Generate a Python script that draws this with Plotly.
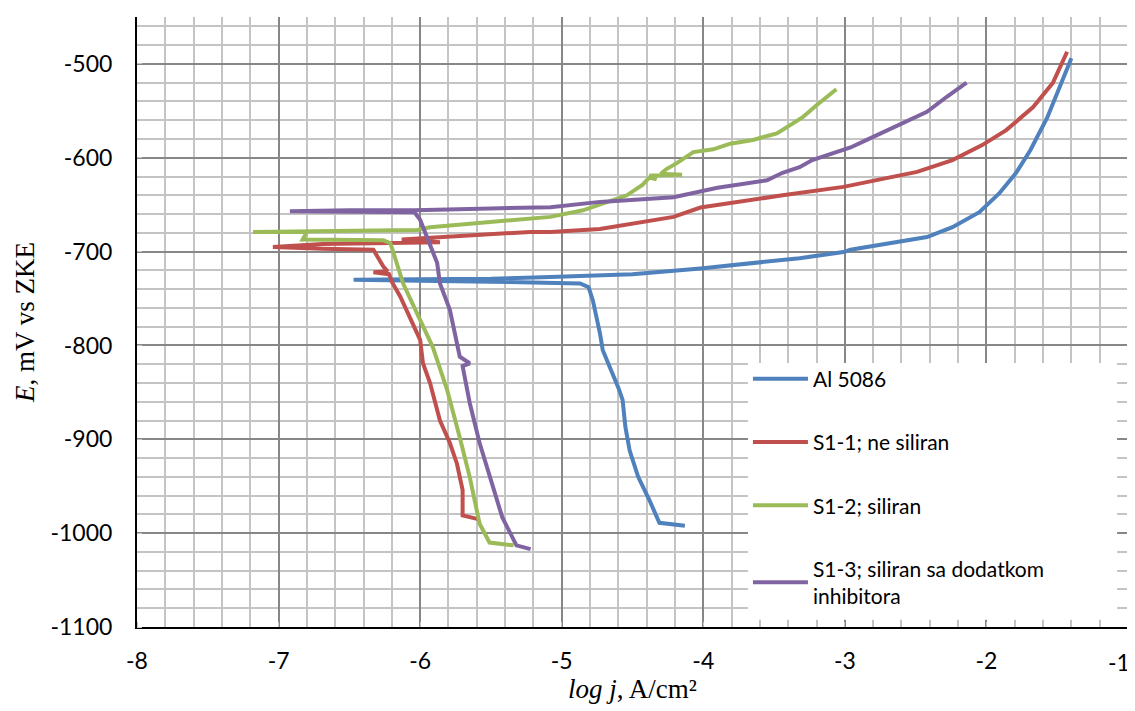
import plotly.graph_objects as go

# ---- data (log j, E) ----
names = ["Al 5086", "S1-1; ne siliran", "S1-2; siliran",
         "S1-3; siliran sa dodatkom<br>inhibitora"]
colors = ["#4F81BD", "#C0504D", "#9BBB59", "#8064A2"]

x_ticks = [-8, -7, -6, -5, -4, -3, -2, -1]
x_ticktext = ["-8", "-7", "-6", "-5", "-4", "-3", "-2", ""]   # "-1" drawn as annotation at the edge
x_last_label = "-1"
y_ticks = [-1100, -1000, -900, -800, -700, -600, -500]
y_ticktext = ["-1100", "-1000", "-900", "-800", "-700", "-600", "-500"]

al_x = [-4.13, -4.31, -4.38, -4.46, -4.52, -4.55, -4.57, -4.60, -4.71, -4.73, -4.78, -4.81,
        -4.87, -5.08, -5.50, -6.00, -6.47, -6.00, -5.50, -5.08, -4.50, -4.02, -3.32, -3.01,
        -2.96, -2.42, -2.24, -2.05, -1.91, -1.79, -1.69, -1.57, -1.48, -1.40]
al_y = [-992, -989, -965, -940, -912, -887, -858, -845, -805, -787, -752, -738,
        -734, -733, -732, -731, -730, -729.5, -729, -727, -724, -718, -707, -700.5,
        -698, -684.5, -674, -658, -638, -616, -592, -557, -525, -494]

s11_x = [-5.59, -5.70, -5.70, -5.74, -5.79, -5.86, -5.93, -5.98, -6.00, -6.14, -6.20,
         -6.22, -6.33, -6.23, -6.26, -6.33, -6.69, -7.04, -6.69, -6.30, -5.86, -6.13,
         -5.50, -5.22, -5.08, -4.73, -4.21, -4.02, -3.44, -3.32, -3.01, -2.49, -2.24,
         -2.03, -1.86, -1.67, -1.53, -1.43]
s11_y = [-985, -981, -954, -926, -904, -880, -840, -819, -794, -748, -732,
         -724, -722, -721, -716, -698, -697, -695, -692, -691, -690, -687,
         -682, -679, -679, -676, -663, -653, -640, -637.6, -631, -615, -602.5,
         -586.5, -570.5, -546, -520, -487]

s12_x = [-5.34, -5.51, -5.58, -5.65, -5.72, -5.81, -5.91, -6.05, -6.12, -6.21, -6.26,
         -6.83, -6.80, -7.18, -6.02, -5.93, -5.22, -5.08, -4.85, -4.54, -4.43, -4.38,
         -4.33, -4.38, -4.15, -4.30, -4.26, -4.19, -4.07, -3.93, -3.81, -3.65, -3.48,
         -3.39, -3.30, -3.20, -3.06]
s12_y = [-1013, -1010, -990, -940, -898, -847, -802, -755, -734, -691, -688,
         -687, -679, -679, -677, -674, -665, -663, -656, -640, -629, -621,
         -623, -619, -618, -617, -612, -606, -594, -591, -585, -581, -574,
         -565, -557, -544, -527]

s13_x = [-5.22, -5.32, -5.42, -5.51, -5.58, -5.65, -5.70, -5.65, -5.72, -5.79, -5.86,
         -5.88, -5.91, -5.93, -6.00, -6.04, -6.50, -6.92, -6.50, -6.04, -5.50, -5.22,
         -5.08, -4.73, -4.21, -3.90, -3.55, -3.44, -3.32, -3.23, -3.01, -2.96, -2.845,
         -2.66, -2.42, -2.28, -2.14]
s13_y = [-1017, -1013, -983, -940, -904, -861, -822, -819, -812, -762, -734,
         -712, -700, -691, -666, -658, -657, -657, -656, -656, -654, -652.6,
         -652.6, -647, -642, -632, -624, -616, -610, -602.5, -592, -589, -581,
         -568, -551, -535, -520]

xs = [al_x, s11_x, s12_x, s13_x]
ys = [al_y, s11_y, s12_y, s13_y]

fig = go.Figure()
for i in range(4):
    fig.add_trace(go.Scatter(x=xs[i], y=ys[i], mode="lines", name=names[i],
                             legendgroup=f"g{i}",
                             line=dict(color=colors[i], width=4)))

tick_font = dict(family="Lato, Noto Sans, sans-serif", size=23, color="#000")
title_font = dict(family="Liberation Serif, Times New Roman, serif", size=27, color="#000")

# page body has an 8px margin, so the figure is drawn 8px right/down
fig.update_layout(
    width=1127, height=703,
    margin=dict(l=129, r=7, t=9, b=84),
    paper_bgcolor="white", plot_bgcolor="white",
    showlegend=True,
    legend=dict(x=0.6165, y=0.44, xanchor="left", yanchor="top",
                bgcolor="rgba(255,255,255,0)", borderwidth=0,
                font=dict(family="Lato, Noto Sans, sans-serif", size=21, color="#000"),
                tracegroupgap=33, itemwidth=55),
    shapes=[
        # white legend panel covering the grid
        dict(type="rect", xref="paper", yref="paper", x0=0.6165, x1=0.989, y0=0.012, y1=0.4328,
             fillcolor="white", line=dict(width=0), layer="above"),
        # right frame line at x = -1
        dict(type="line", xref="paper", yref="paper", x0=1, x1=1, y0=0, y1=1.01,
             line=dict(color="#878787", width=2), layer="above"),
    ],
    annotations=[
        dict(text=x_last_label, x=-1, xref="x", y=0, yref="paper", yanchor="top",
             xanchor="right", xshift=4, yshift=-19, showarrow=False, font=tick_font),
    ],
)
fig.update_xaxes(
    range=[-8, -1], tickvals=x_ticks, ticktext=x_ticktext, automargin=False,
    showgrid=True, gridcolor="#878787", gridwidth=1.5,
    minor=dict(dtick=0.2, tick0=-8, showgrid=True, gridcolor="#C4C4C4", gridwidth=1.5,
               ticks="inside", ticklen=5, tickcolor="#C4C4C4"),
    showline=True, linecolor="#000", linewidth=2,
    zeroline=False, ticks="", tickfont=tick_font, ticklabelstandoff=12,
    title=dict(text="<i>log j</i>, A/cm²", font=title_font, standoff=6),
)
fig.update_yaxes(
    range=[-1100, -450], tickvals=y_ticks, ticktext=y_ticktext, automargin=False,
    showgrid=True, gridcolor="#878787", gridwidth=1.5,
    minor=dict(dtick=20, tick0=-1100, showgrid=True, gridcolor="#C4C4C4", gridwidth=1.5,
               ticks="inside", ticklen=5, tickcolor="#C4C4C4"),
    showline=True, linecolor="#000", linewidth=2,
    zeroline=False, ticks="", tickfont=tick_font, ticklabelstandoff=18,
    title=dict(text="<i>E</i>, mV vs ZKE", font=title_font, standoff=8),
)

fig.write_html("out.html")
